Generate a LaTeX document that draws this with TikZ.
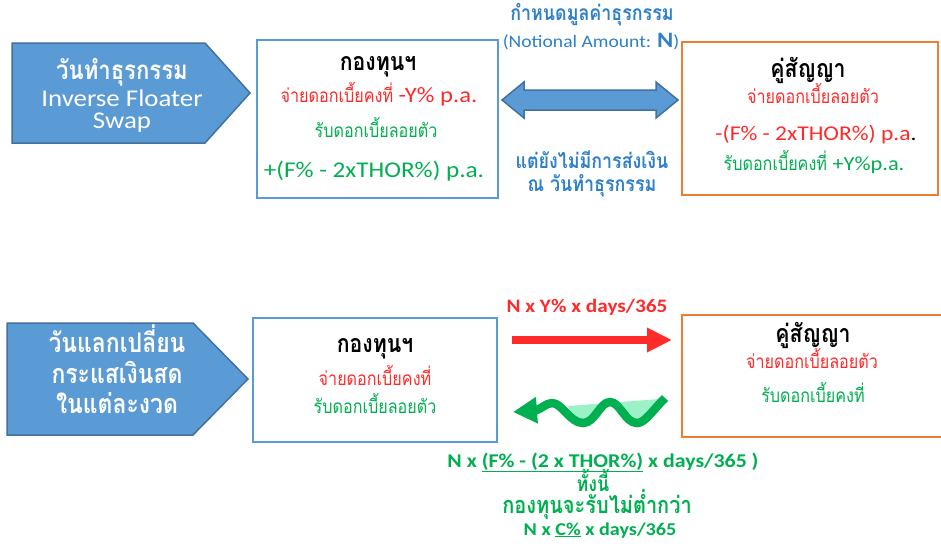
\documentclass[tikz,border=0pt]{standalone}
\usepackage{fontspec}
\setmainfont{Carlito}[FakeStretch=1.12]
\newfontfamily\thai[Script=Thai,FakeStretch=0.85]{Loma}
\usetikzlibrary{arrows.meta}
\definecolor{pblue}{HTML}{5B9BD5}
\definecolor{pblueD}{HTML}{41719C}
\definecolor{porange}{HTML}{ED7D31}
\definecolor{tred}{HTML}{FF2A2A}
\definecolor{tgreen}{HTML}{00B050}
\definecolor{tblue}{HTML}{2E80C8}
\definecolor{lgreen}{HTML}{9AF2C6}
\newcommand\fs[1]{\fontsize{#1}{#1}\selectfont}
\begin{document}
\begin{tikzpicture}[x=1pt,y=-1pt,
  t/.style={inner sep=0pt,anchor=base},
  fundbox/.style={draw=pblue,line width=2pt,inner sep=0pt},
  cpbox/.style={draw=porange,line width=2pt,inner sep=0pt},
  penta/.style={fill=pblue,draw=pblueD,line width=1.5pt},
  hd/.style={t,black},
  rd/.style={t,tred},
  gr/.style={t,tgreen},
  bl/.style={t,tblue}]
\clip (0,0) rectangle (941,554);
\fill[white] (0,0) rectangle (941,554);
% ---------- top row ----------
\draw[penta] (12,43) -- (205,43) -- (250,93) -- (205,143) -- (12,143) -- cycle;
\node[t,white] (p1a) at (122,79) {\fs{26}\thai\bfseries วันทำธุรกรรม};
\node[t,white] (p1b) at (122,106) {\fs{24}Inverse Floater};
\node[t,white] (p1c) at (122,128) {\fs{24}Swap};

\node[fundbox,minimum width=241,minimum height=158] (fundA) at (377.5,119) {};
\node[hd] (fa1) at (378,70) {\fs{25}\thai\bfseries กองทุนฯ};
\node[rd] (fa2) at (379,102) {\fs{19}\thai จ่ายดอกเบี้ยคงที่ \fs{22}\normalfont -Y\% p.a.};
\node[gr] (fa3) at (376,137) {\fs{19}\thai รับดอกเบี้ยลอยตัว};
\node[gr] (fa4) at (374,177) {\fs{22.5}+(F\% - 2xTHOR\%) p.a.};

\node[cpbox,minimum width=256,minimum height=153] (cpA) at (810,118.5) {};
\node[hd] (ca1) at (808,77) {\fs{25}\thai\bfseries คู่สัญญา};
\node[rd] (ca2) at (813,103) {\fs{19}\thai จ่ายดอกเบี้ยลอยตัว};
\node[rd] (ca3) at (816,140) {\fs{21}-(F\% - 2xTHOR\%) p.a\textcolor{black}{.}};
\node[gr] (ca4) at (814,170) {\fs{19}\thai รับดอกเบี้ยคงที่ \fs{20}\normalfont +Y\%p.a.};

% double arrow between the boxes
\coordinate (dL) at (502,100);
\coordinate (dR) at (678,100);
\draw[penta] (dL) -- (524,82) -- (524,90) -- (656,90) -- (656,82) -- (dR)
  -- (656,118) -- (656,110) -- (524,110) -- (524,118) -- cycle;
\node[bl] (la1) at (592,20) {\fs{21}\thai\bfseries กำหนดมูลค่าธุรกรรม};
\node[bl] (la2) at (591,47) {\fs{17.5}(Notional Amount: {\fs{22}\bfseries N})};
\node[bl] (la3) at (592,168) {\fs{21}\thai\bfseries แต่ยังไม่มีการส่งเงิน};
\node[bl] (la4) at (592,191) {\fs{21}\thai\bfseries ณ วันทำธุรกรรม};

% ---------- bottom row ----------
\draw[penta] (7,323) -- (193,323) -- (248,379) -- (193,435) -- (7,435) -- cycle;
\node[t,white] (p2a) at (117,352) {\fs{27}\thai\bfseries วันแลกเปลี่ยน};
\node[t,white] (p2b) at (117,383) {\fs{27}\thai\bfseries กระแสเงินสด};
\node[t,white] (p2c) at (117,413) {\fs{27}\thai\bfseries ในแต่ละงวด};

\node[fundbox,minimum width=244,minimum height=124] (fundB) at (375,380) {};
\node[hd] (fb1) at (375,352) {\fs{25}\thai\bfseries กองทุนฯ};
\node[rd] (fb2) at (375,385) {\fs{19}\thai จ่ายดอกเบี้ยคงที่};
\node[gr] (fb3) at (375,413) {\fs{19}\thai รับดอกเบี้ยลอยตัว};

\node[cpbox,minimum width=270,minimum height=122] (cpB) at (817,376) {};
\node[hd] (cb1) at (813,342) {\fs{25}\thai\bfseries คู่สัญญา};
\node[rd] (cb2) at (812,368) {\fs{19}\thai จ่ายดอกเบี้ยลอยตัว};
\node[gr] (cb3) at (813,402) {\fs{19}\thai รับดอกเบี้ยคงที่};

% red arrow
\coordinate (r1) at (512,340);
\coordinate (r2) at (672,340);
\draw[tred,line width=8pt,-{Triangle[length=25pt,width=23pt]}] (r1) -- (r2);
\node[rd] (rl) at (587,312) {\fs{19}\bfseries N x Y\% x days/365};

% green wavy arrow
\coordinate (w1) at (665,398);
\coordinate (w2) at (513,412);
\fill[lgreen] (568,406) -- (660,399) .. controls (650,412) and (645,422) .. (637,422)
  .. controls (625,422) and (620,403) .. (610,403)
  .. controls (600,403) and (595,422) .. (583,422)
  .. controls (575,422) and (571,413) .. (568,406) -- cycle;
\draw[tgreen,line width=8.5pt,-{Triangle[length=24pt,width=25pt]}] (w1)
  .. controls (652,411) and (645,423) .. (637,423)
  .. controls (625,423) and (620,402) .. (610,402)
  .. controls (600,402) and (595,423) .. (583,423)
  .. controls (570,423) and (562,403) .. (552,403)
  .. controls (546,403) and (540,410) .. (w2);

\node[gr] (g1) at (603,467) {\fs{19.5}\bfseries N x \underline{(F\% - (2 x THOR\%)} x days/365 )};
\node[gr] (g2) at (593,491) {\fs{21}\thai\bfseries ทั้งนี้};
\node[gr] (g3) at (597,513) {\fs{23.5}\thai\bfseries กองทุนจะรับไม่ต่ำกว่า};
\node[gr] (g4) at (600,535) {\fs{18}\bfseries N x \underline{C\%} x days/365};
\end{tikzpicture}
\end{document}
